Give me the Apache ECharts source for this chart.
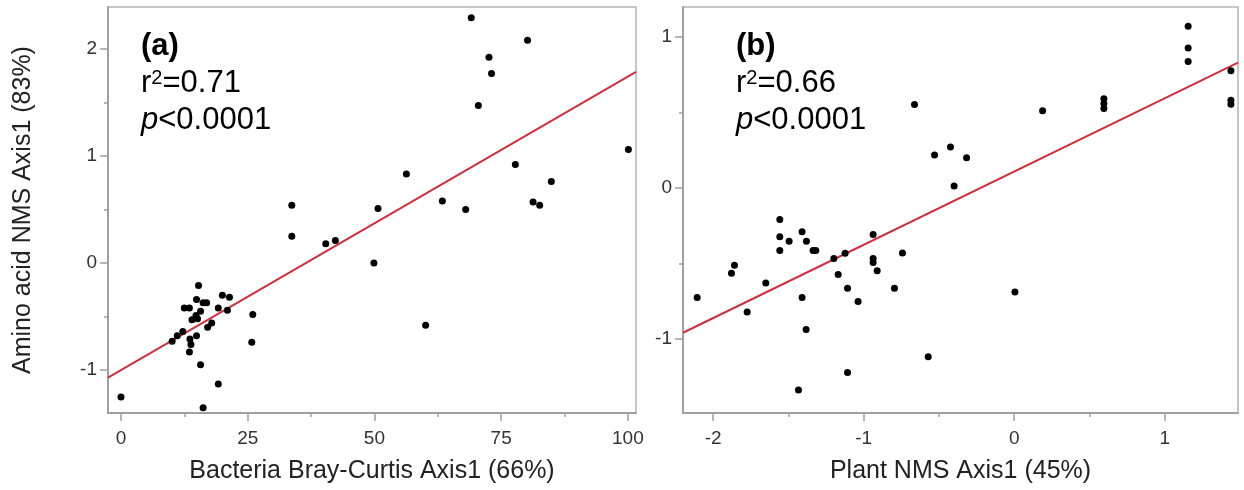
<!DOCTYPE html>
<html><head><meta charset="utf-8">
<script src="https://cdn.jsdelivr.net/npm/echarts@6/dist/echarts.min.js"></script>
<style>html,body{margin:0;padding:0;background:#fff}#c{width:1244px;height:490px}</style>
</head><body><div id="c"></div>
<script>
// ---- Panel (a): Bacteria Bray-Curtis Axis1 vs Amino acid NMS Axis1
const aX = [69.1, 80.2, 72.6, 73.1, 70.5, 100.1, 77.8, 56.3, 84.9, 50.7, 63.4, 68.0, 81.3, 82.6, 40.4, 42.3, 33.7, 33.7, 49.9, 60.1,
  15.3, 14.9, 16.2, 16.9, 20.0, 21.4, 12.5, 13.5, 15.7, 14.8, 14.0, 15.1, 19.2, 21.0, 26.0, 17.9, 17.1, 12.2, 11.1, 10.1,
  14.9, 13.6, 13.8, 13.5, 25.8, 15.7, 19.2, 16.2, 0.0];
const aY = [2.29, 2.08, 1.92, 1.77, 1.47, 1.06, 0.92, 0.83, 0.76, 0.51, 0.58, 0.50, 0.57, 0.54, 0.18, 0.21, 0.54, 0.25, 0.00, -0.58,
  -0.21, -0.34, -0.37, -0.37, -0.30, -0.32, -0.42, -0.42, -0.45, -0.49, -0.53, -0.52, -0.42, -0.44, -0.48, -0.56, -0.60, -0.64, -0.68, -0.73,
  -0.68, -0.71, -0.76, -0.83, -0.74, -0.95, -1.13, -1.35, -1.25];
const aFit = { intercept: -1.00, slope: 0.0274 };
const aXRange = [-2.56, 101.6];
const aYRange = [-1.40, 2.39];
const aXTicks = [0, 25, 50, 75, 100];
const aXMinor = [12.5, 37.5, 62.5, 87.5];
const aYTicks = [-1, 0, 1, 2];
const aYMinor = [-0.5, 0.5, 1.5];

// ---- Panel (b): Plant NMS Axis1 vs Amino acid NMS Axis1
const bX = [-2.106, -1.878, -1.858, -1.774, -1.650, -1.557, -1.557, -1.557, -1.495, -1.409, -1.409, -1.380, -1.382, -1.433, -1.336,
  -1.318, -1.198, -1.169, -1.123, -1.107, -1.107, -1.037, -0.937, -0.937, -0.937, -0.910, -0.795, -0.742, -0.662, -0.571,
  -0.529, -0.423, -0.399, -0.316, 0.005, 0.189, 0.596, 0.596, 0.596, 1.156, 1.156, 1.156, 1.440, 1.440, 1.440];
const bY = [-0.726, -0.565, -0.512, -0.821, -0.629, -0.209, -0.324, -0.415, -0.353, -0.291, -0.726, -0.353, -0.938, -1.338, -0.415,
  -0.415, -0.468, -0.574, -0.432, -0.664, -1.222, -0.752, -0.309, -0.468, -0.494, -0.548, -0.664, -0.431, 0.552, -1.117,
  0.217, 0.270, 0.013, 0.199, -0.689, 0.510, 0.589, 0.559, 0.526, 1.069, 0.925, 0.837, 0.775, 0.580, 0.554];
const bFit = { intercept: 0.108, slope: 0.485 };
const bXRange = [-2.20, 1.487];
const bYRange = [-1.49, 1.197];
const bXTicks = [-2, -1, 0, 1];
const bXMinor = [-1.5, -0.5, 0.5];
const bYTicks = [-1, 0, 1];
const bYMinor = [-0.5, 0.5];

const labelsA = { panel: '(a)', r2: '0.71', p: '<0.0001', xName: 'Bacteria Bray-Curtis Axis1 (66%)', yName: 'Amino acid NMS Axis1 (83%)' };
const labelsB = { panel: '(b)', r2: '0.66', p: '<0.0001', xName: 'Plant NMS Axis1 (45%)' };

const FONT = "'Liberation Sans', Arial, sans-serif";
const AXIS_COLOR = '#a0a0a0';
const TEXT_COLOR = '#333';

function pts(xs, ys) { return xs.map((x, i) => [x, ys[i]]); }
function fitLine(fit, range) { return range.map(x => [x, fit.intercept + fit.slope * x]); }

function mainAxis(dim, gi, range, ticks, name) {
  const isX = dim === 'x';
  return {
    type: 'value', gridIndex: gi, min: range[0], max: range[1],
    position: isX ? 'bottom' : 'left',
    splitLine: { show: false },
    axisLine: { show: true, onZero: false, lineStyle: { color: AXIS_COLOR, width: 2 } },
    axisTick: { show: true, inside: false, length: 8, customValues: ticks, lineStyle: { color: AXIS_COLOR, width: 1.5 } },
    axisLabel: { show: true, customValues: ticks, color: TEXT_COLOR, fontFamily: FONT, fontSize: 19, margin: isX ? 16 : 11 },
    name: name || '', nameLocation: 'middle',
    nameTextStyle: { color: '#222', fontFamily: FONT, fontSize: 25 },
    nameGap: isX ? 46 : 72
  };
}
function minorAxis(dim, gi, range, ticks) {
  const isX = dim === 'x';
  return {
    type: 'value', gridIndex: gi, min: range[0], max: range[1],
    position: isX ? 'bottom' : 'left',
    splitLine: { show: false },
    axisLine: { show: false, onZero: false },
    axisTick: { show: true, inside: false, length: 4, customValues: ticks, lineStyle: { color: AXIS_COLOR, width: 1.5 } },
    axisLabel: { show: false }
  };
}

const chart = echarts.init(document.getElementById('c'), null, { renderer: 'canvas' });

function annot(lbl, left) {
  return {
    left: left, top: 23,
    text: '{b|' + lbl.panel + '}\n{n|r}{s|2}{n|=' + lbl.r2 + '}\n{i|p}{n|' + lbl.p + '}',
    textStyle: {
      fontWeight: 'normal',
      rich: {
        b: { fontFamily: FONT, fontSize: 31, fontWeight: 'bold', color: '#000', lineHeight: 37 },
        n: { fontFamily: FONT, fontSize: 31, fontWeight: 'normal', color: '#000', lineHeight: 37 },
        i: { fontFamily: FONT, fontSize: 31, fontWeight: 'normal', fontStyle: 'italic', color: '#000', lineHeight: 37 },
        s: { fontFamily: FONT, fontSize: 20, fontWeight: 'normal', color: '#000', lineHeight: 37, verticalAlign: 'top', padding: [3, 0, 0, 0] }
      }
    }
  };
}

const option = {
  backgroundColor: '#fff',
  animation: false,
  title: [annot(labelsA, 136), annot(labelsB, 731)],
  grid: [
    { left: 108, top: 7, right: 608, bottom: 77, show: true, borderColor: '#b4b4b4', borderWidth: 1.5, backgroundColor: 'transparent' },
    { left: 683, top: 7, right: 6, bottom: 77, show: true, borderColor: '#b4b4b4', borderWidth: 1.5, backgroundColor: 'transparent' }
  ],
  xAxis: [
    mainAxis('x', 0, aXRange, aXTicks, labelsA.xName),
    minorAxis('x', 0, aXRange, aXMinor),
    mainAxis('x', 1, bXRange, bXTicks, labelsB.xName),
    minorAxis('x', 1, bXRange, bXMinor)
  ],
  yAxis: [
    mainAxis('y', 0, aYRange, aYTicks, labelsA.yName),
    minorAxis('y', 0, aYRange, aYMinor),
    mainAxis('y', 1, bYRange, bYTicks, ''),
    minorAxis('y', 1, bYRange, bYMinor)
  ],
  series: [
    { type: 'line', xAxisIndex: 0, yAxisIndex: 0, data: fitLine(aFit, aXRange), symbol: 'none', lineStyle: { color: '#c8323f', width: 2 }, z: 2 },
    { type: 'scatter', xAxisIndex: 0, yAxisIndex: 0, data: pts(aX, aY), symbolSize: 7, itemStyle: { color: '#000', opacity: 1 }, z: 3 },
    { type: 'line', xAxisIndex: 2, yAxisIndex: 2, data: fitLine(bFit, bXRange), symbol: 'none', lineStyle: { color: '#c8323f', width: 2 }, z: 2 },
    { type: 'scatter', xAxisIndex: 2, yAxisIndex: 2, data: pts(bX, bY), symbolSize: 7, itemStyle: { color: '#000', opacity: 1 }, z: 3 }
  ]
};
chart.setOption(option);
</script>
</body></html>
